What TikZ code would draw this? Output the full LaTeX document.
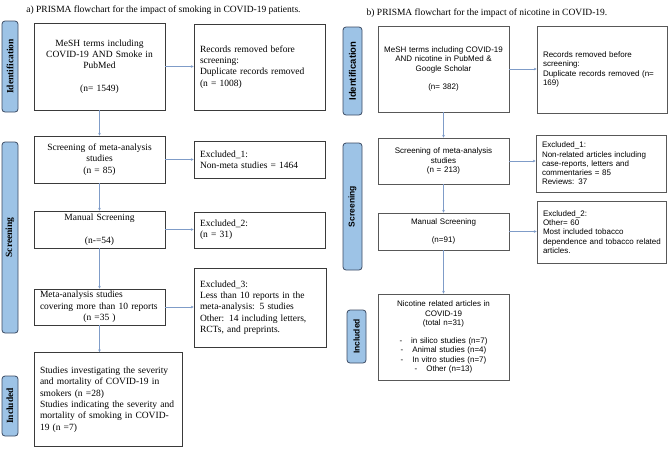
\documentclass[tikz,border=0pt]{standalone}
\usepackage{fontspec}
\setmainfont{Liberation Serif}
\newfontfamily\arialf{Liberation Sans}
\usetikzlibrary{arrows.meta}
\definecolor{sidefill}{HTML}{9DC3E6}
\definecolor{sidedraw}{HTML}{3B4A63}
\definecolor{boxdraw}{HTML}{3A3A3A}
\definecolor{arrowc}{HTML}{7F9CC8}
\tikzset{
  lbox/.style={draw=boxdraw, line width=0.7pt, inner xsep=6pt, inner ysep=2pt,
    font=\fontsize{9.5}{11.3}\selectfont},
  rbox/.style={draw=boxdraw!85, line width=0.7pt, inner xsep=6pt, inner ysep=2pt,
    font=\arialf\fontsize{8}{9.2}\selectfont},
  lside/.style={draw=sidedraw, fill=sidefill, rounded corners=3pt, line width=0.8pt},
  rside/.style={draw=sidedraw, fill=sidefill, rounded corners=3pt, line width=0.8pt},
  lsidetext/.style={rotate=90, font=\bfseries\fontsize{9.5}{11}\selectfont},
  rsidetext/.style={rotate=90, font=\arialf\bfseries\fontsize{8.5}{9}\selectfont},
  flow/.style={draw=arrowc, line width=0.5pt, -{Stealth[length=2.8pt,width=2.6pt]}},
  titletext/.style={font=\fontsize{9.5}{11}\selectfont, inner sep=0pt}
}
\begin{document}
\begin{tikzpicture}[x=1pt,y=-1pt]
\useasboundingbox (0,0) rectangle (669,448);
% ---------- titles
\node[titletext] (ta) at (163.5,10) {a) PRISMA flowchart for the impact of smoking in COVID-19 patients.};
\node[titletext] (tb) at (487,13) {b) PRISMA flowchart for the impact of nicotine in COVID-19.};
% ---------- left sidebars
\node[lside, minimum width=16, minimum height=91] (lsi) at (10,66.5) {};
\node[lsidetext] (lsit) at (lsi) {Identification};
\node[lside, minimum width=16, minimum height=191] (lss) at (10,237.5) {};
\node[lsidetext] (lsst) at (lss) {Screening};
\node[lside, minimum width=16, minimum height=60] (lsn) at (10,406) {};
\node[lsidetext] (lsnt) at (lsn) {Included};
% ---------- left boxes
\node[lbox, minimum width=131, minimum height=87, text width=119, align=center] (l1) at (99.5,66.5)
  {MeSH terms including\\COVID-19 AND Smoke in\\PubMed\\[11.3pt](n= 1549)};
\node[lbox, minimum width=131, minimum height=86, text width=119, align=left] (lr1) at (259.5,67)
  {Records removed before\\screening:\\Duplicate records removed\\(n = 1008)};
\node[lbox, minimum width=131, minimum height=47, text width=119, align=center] (l2) at (99.5,159.5)
  {Screening of meta-analysis\\studies\\(n = 85)};
\node[lbox, minimum width=131, minimum height=37, text width=119, align=left] (le1) at (259.5,159.5)
  {Excluded\_1:\\Non-meta studies = 1464};
\node[lbox, minimum width=131, minimum height=37, text width=119, align=center] (l3) at (99.5,229.5)
  {Manual Screening\\[11.3pt](n-=54)};
\node[lbox, minimum width=131, minimum height=36, text width=119, align=left] (le2) at (259.5,230)
  {Excluded\_2:\\(n = 31)};
\node[lbox, minimum width=131, minimum height=36, text width=119, align=left] (l4) at (99.5,307)
  {Meta-analysis studies\\\mbox{covering more than 10 reports}\\\makebox[119pt][c]{(n =35 )}};
\node[lbox, minimum width=132, minimum height=79, text width=120, align=left] (le3) at (260,307.5)
  {Excluded\_3:\\Less than 10 reports in the\\meta-analysis: 5 studies\\Other: 14 including letters,\\RCTs, and preprints.};
\node[lbox, minimum width=148, minimum height=94, text width=136, align=left] (li) at (108,399.5)
  {Studies investigating the severity\\and mortality of COVID-19 in\\smokers (n =28)\\\mbox{Studies indicating the severity and}\\mortality of smoking in COVID-\\19 (n =7)};
% ---------- left connectors
\draw[flow] (l1.east) -- (l1.east -| lr1.west);
\draw[flow] (l1.south) -- (l2.north);
\draw[flow] (l2.east) -- (l2.east -| le1.west);
\draw[flow] (l2.south) -- (l3.north);
\draw[flow] (l3.east) -- (l3.east -| le2.west);
\draw[flow] (l3.south) -- (l4.north);
\draw[flow] (l4.east) -- (l4.east -| le3.west);
\draw[flow] (l4.south) -- (l4.south |- li.north);
% ---------- right sidebars
\node[rside, minimum width=19, minimum height=88] (rsi) at (352.5,71) {};
\node[rsidetext, font=\arialf\bfseries\fontsize{9.5}{10}\selectfont] (rsit) at (rsi) {Identification};
\node[rside, minimum width=19, minimum height=127] (rss) at (352.5,206.5) {};
\node[rsidetext] (rsst) at (rss) {Screening};
\node[rside, minimum width=19, minimum height=53] (rsn) at (356.5,336.5) {};
\node[rsidetext] (rsnt) at (rsn) {Included};
% ---------- right boxes
\node[rbox, minimum width=131, minimum height=86, text width=119, align=center] (r1) at (443.5,69)
  {MeSH terms including COVID-19\\AND nicotine in PubMed \&\\Google Scholar\\[9.2pt](n= 382)};
\node[rbox, minimum width=130, minimum height=87, text width=118, align=left] (rr1) at (602,69.5)
  {Records removed before\\screening:\\\mbox{Duplicate records removed (n=}\\169)};
\node[rbox, minimum width=131, minimum height=46, text width=119, align=center] (r2) at (443.5,161)
  {Screening of meta-analysis\\studies\\(n = 213)};
\node[rbox, minimum width=130, minimum height=57, text width=118, align=left] (re1) at (601,163.5)
  {Excluded\_1:\\\mbox{Non-related articles including}\\case-reports, letters and\\commentaries = 85\\Reviews: 37};
\node[rbox, minimum width=129, minimum height=62, text width=117, align=left] (re2) at (601.5,232)
  {Excluded\_2:\\Other= 60\\Most included tobacco\\\mbox{dependence and tobacco related}\\articles.};
\node[rbox, minimum width=131, minimum height=37, text width=119, align=center] (r3) at (443.5,231.5)
  {Manual Screening\\[9.2pt](n=91)};
\node[rbox, minimum width=131, minimum height=86, text width=119, align=center] (ri) at (443.5,337)
  {Nicotine related articles in\\COVID-19\\(total n=31)\\[9.2pt]-\hspace{9pt}in silico studies (n=7)\\-\hspace{9pt}Animal studies (n=4)\\-\hspace{9pt}In vitro studies (n=7)\\-\hspace{9pt}Other (n=13)};
% ---------- right connectors
\draw[flow] (r1.east) -- (r1.east -| rr1.west);
\draw[flow] (r1.south) -- (r2.north);
\draw[flow] (r2.east) -- (r2.east -| re1.west);
\draw[flow] (r2.south) -- (r3.north);
\draw[flow] (r3.east) -- (r3.east -| re2.west);
\draw[flow] (r3.south) -- (ri.north);
\end{tikzpicture}
\end{document}
